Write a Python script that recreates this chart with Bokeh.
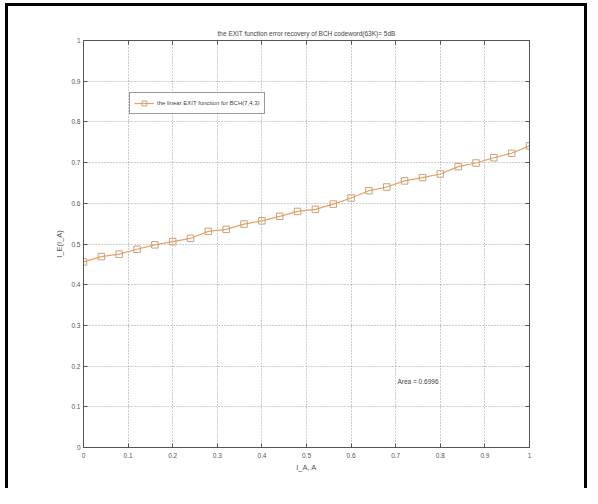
from bokeh.plotting import figure
from bokeh.layouts import column
from bokeh.models import (ColumnDataSource, Range1d, FixedTicker, LinearAxis,
                          Legend, LegendItem, Label)
from bokeh.embed import file_html
from bokeh.resources import INLINE

# data
ia = [0.0, 0.04, 0.08, 0.12, 0.16, 0.20, 0.24, 0.28, 0.32, 0.36, 0.40, 0.44, 0.48,
      0.52, 0.56, 0.60, 0.64, 0.68, 0.72, 0.76, 0.80, 0.84, 0.88, 0.92, 0.96, 1.00]
ie = [0.456, 0.469, 0.475, 0.487, 0.498, 0.506, 0.514, 0.531, 0.536, 0.549, 0.557, 0.568, 0.580,
      0.585, 0.598, 0.613, 0.631, 0.640, 0.655, 0.663, 0.672, 0.690, 0.699, 0.712, 0.723, 0.741]
ticks = [0, 0.1, 0.2, 0.3, 0.4, 0.5, 0.6, 0.7, 0.8, 0.9, 1.0]
tick_labels = ["0", "0.1", "0.2", "0.3", "0.4", "0.5", "0.6", "0.7", "0.8", "0.9", "1"]
title_text = "the EXIT function error recovery of BCH codeword(63K)= 5dB"
legend_text = "the linear EXIT function for BCH(7,4,3)"
area_text = "Area = 0.6996"

FONT = "Liberation Sans"
src = ColumnDataSource(dict(x=ia, y=ie))

p = figure(width=576, height=482, output_backend="svg", toolbar_location=None,
           x_range=Range1d(0, 1), y_range=Range1d(0, 1),
           min_border_left=75, min_border_right=55, min_border_top=34, min_border_bottom=41,
           x_axis_label="I_A, A", y_axis_label="I_E(I_A)")
p.background_fill_color = "white"
p.border_fill_color = "white"
p.outline_line_color = "#555555"
p.outline_line_width = 1

p.title.text = title_text
p.title.align = "center"
p.title.text_font = FONT
p.title.text_font_size = "6.5px"
p.title.text_font_style = "normal"
p.title.text_color = "#444444"
p.title.standoff = 8

tick_map = {t: l for t, l in zip(ticks, tick_labels)}
for ax in (p.xaxis[0], p.yaxis[0]):
    ax.ticker = FixedTicker(ticks=ticks)
    ax.major_label_overrides = tick_map
    ax.major_tick_in = 4
    ax.major_tick_out = 0
    ax.minor_tick_in = 0
    ax.minor_tick_out = 0
    ax.axis_line_color = "#555555"
    ax.major_tick_line_color = "#555555"
    ax.major_label_text_font = FONT
    ax.major_label_text_font_size = "6.5px"
    ax.major_label_text_color = "#555555"
    ax.axis_label_text_font = FONT
    ax.axis_label_text_font_size = "7.5px"
    ax.axis_label_text_font_style = "normal"
    ax.axis_label_text_color = "#555555"
p.xaxis[0].major_label_standoff = 5
p.xaxis[0].axis_label_standoff = 2
p.yaxis[0].major_label_standoff = 3
p.yaxis[0].axis_label_standoff = 4

# box axes (top / right) with ticks only
for loc in ("above", "right"):
    a = LinearAxis(ticker=FixedTicker(ticks=ticks),
                   major_label_overrides={t: "" for t in ticks},
                   major_tick_in=4, major_tick_out=0, minor_tick_in=0, minor_tick_out=0,
                   axis_line_color="#555555", major_tick_line_color="#555555",
                   major_label_standoff=0)
    p.add_layout(a, loc)

p.xgrid.ticker = FixedTicker(ticks=ticks)
p.ygrid.ticker = FixedTicker(ticks=ticks)
for g in (p.xgrid[0], p.ygrid[0]):
    g.grid_line_color = "#9a9a9a"
    g.grid_line_dash = "1 2"
    g.grid_line_width = 1

ln = p.line("x", "y", source=src, line_color="#eaa060", line_width=1.2)
mk = p.scatter("x", "y", source=src, marker="square", size=6.5, fill_color=None,
               line_color="#c9a27a", line_width=1)

legend = Legend(items=[LegendItem(label=legend_text, renderers=[ln, mk])],
                location=(46, 333), label_text_font=FONT, label_text_font_size="6px",
                label_text_color="#444444", glyph_width=20, glyph_height=12,
                padding=4, margin=0, spacing=0, label_standoff=3,
                border_line_color="#333333", border_line_width=1.2,
                background_fill_alpha=1)
p.add_layout(legend, "center")

p.add_layout(Label(x=0.704, y=0.162, text=area_text, text_font=FONT,
                   text_font_size="6.5px", text_color="#444444", text_baseline="middle"))

lay = column(p, styles={"border-left": "3px solid black", "border-right": "3px solid black",
                        "border-top": "3px solid black", "margin-left": "5px",
                        "margin-top": "3px"})

open("out.html", "w").write(file_html(lay, INLINE))
